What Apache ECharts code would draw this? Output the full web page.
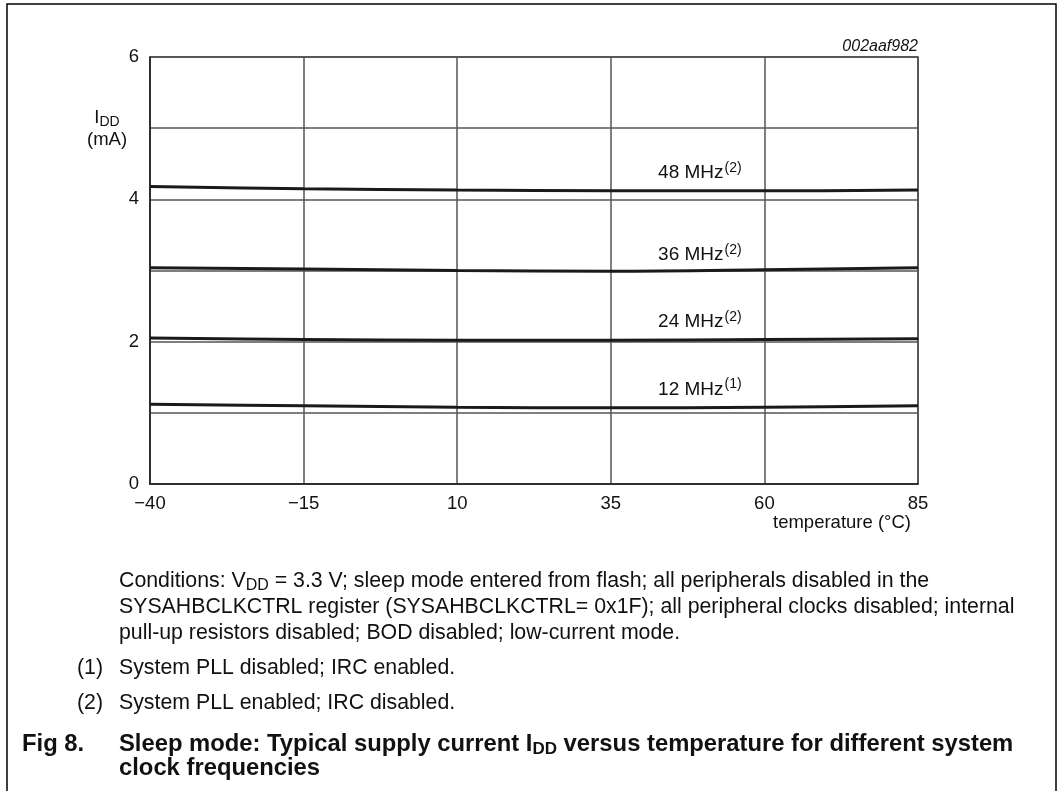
<!DOCTYPE html>
<html><head><meta charset="utf-8">
<script src="https://cdn.jsdelivr.net/npm/echarts@6/dist/echarts.min.js"></script>
<style>html,body{margin:0;padding:0;background:#fff}#c{width:1063px;height:791px}</style>
</head><body><div id="c"></div>
<script>
// ---- data ----
const temps = [-40, -15, 10, 35, 60, 85];
const idd48 = [4.18, 4.15, 4.13, 4.12, 4.12, 4.13];
const idd36 = [3.04, 3.02, 3.00, 2.99, 3.01, 3.04];
const idd24 = [2.05, 2.03, 2.02, 2.02, 2.03, 2.04];
const idd12 = [1.12, 1.10, 1.08, 1.07, 1.08, 1.10];
const seriesNames = ['48 MHz', '36 MHz', '24 MHz', '12 MHz'];
const seriesNotes = ['(2)', '(2)', '(2)', '(1)'];
const xTicks = [-40, -15, 10, 35, 60, 85];
const yTicks = [0, 2, 4, 6];
// label anchors (annotation positions)
const labelPos = [[49.5, 4.37], [49.5, 3.22], [49.5, 2.28], [49.5, 1.33]];

const FONT = '"Liberation Sans", Arial, Helvetica, sans-serif';
const chart = echarts.init(document.getElementById('c'), null, {renderer: 'canvas'});
const allY = [idd48, idd36, idd24, idd12];

const series = allY.map((ys, i) => ({
  type: 'line',
  name: seriesNames[i],
  data: temps.map((t, k) => [t, ys[k]]),
  smooth: 0.35,
  showSymbol: false,
  lineStyle: {color: '#1a1a1a', width: 3},
  silent: true,
  markPoint: {
    symbolSize: 0,
    silent: true,
    data: [{coord: labelPos[i]}],
    label: {
      show: true, position: 'inside',
      formatter: seriesNames[i] + '{s|' + seriesNotes[i] + '}',
      color: '#111', fontFamily: FONT, fontSize: 19,
      rich: {s: {fontSize: 14, fontFamily: FONT, color: '#111', verticalAlign: 'top', padding: [0, 0, 10, 1]}}
    }
  }
}));

const txt = (x, y, text, opts) => Object.assign({
  type: 'text', x: x, y: y,
  style: Object.assign({text: text, fill: '#111', font: '21.3px ' + FONT, textVerticalAlign: 'middle'}, opts || {})
});

chart.setOption({
  animation: false,
  backgroundColor: '#fff',
  grid: {left: 150, right: 145, top: 57, bottom: 307, show: true, borderColor: '#333', borderWidth: 1.5},
  xAxis: {
    type: 'value', min: xTicks[0], max: xTicks[xTicks.length - 1], interval: 25,
    axisLine: {show: true, onZero: false, lineStyle: {color: '#222', width: 1.5}},
    axisTick: {show: false},
    splitLine: {show: true, lineStyle: {color: '#555', width: 1.5}},
    axisLabel: {
      color: '#111', fontFamily: FONT, fontSize: 18.5, margin: 10,
      formatter: v => xTicks.includes(v) ? String(v).replace('-', '\u2212') : ''
    }
  },
  yAxis: {
    type: 'value', min: 0, max: 6, interval: 1,
    axisLine: {show: true, onZero: false, lineStyle: {color: '#222', width: 1.5}},
    axisTick: {show: false},
    splitLine: {show: true, lineStyle: {color: '#555', width: 1.5}},
    axisLabel: {
      color: '#111', fontFamily: FONT, fontSize: 18.5, margin: 11,
      formatter: v => yTicks.includes(v) ? String(v) : ''
    }
  },
  series: series,
  graphic: [
    // frame
    {type: 'polyline', shape: {points: [[7, 800], [7, 4], [1056, 4], [1056, 800]]}, style: {stroke: '#000', lineWidth: 1.5, fill: null}},
    // chart code
    txt(918, 47, '002aaf982', {font: 'italic 16px ' + FONT, textAlign: 'right'}),
    // y title
    {type: 'text', x: 107, y: 118, style: {
      text: 'I{s|DD}', textAlign: 'center', textVerticalAlign: 'middle', fill: '#111', font: '18.5px ' + FONT,
      rich: {s: {fontSize: 14, fontFamily: FONT, fill: '#111', verticalAlign: 'bottom', padding: [9, 0, 0, 0]}}
    }},
    txt(107, 140, '(mA)', {font: '18.5px ' + FONT, textAlign: 'center'}),
    // x title
    txt(842, 523, 'temperature (\u00B0C)', {font: '18.5px ' + FONT, textAlign: 'center'}),
    // caption
    {type: 'text', x: 119, y: 581, style: {
      text: 'Conditions: V{s|DD} = 3.3 V; sleep mode entered from flash; all peripherals disabled in the',
      fill: '#111', font: '21.3px ' + FONT, textVerticalAlign: 'middle',
      rich: {s: {fontSize: 16, fontFamily: FONT, fill: '#111', verticalAlign: 'bottom', padding: [10, 0, 0, 0]}}
    }},
    txt(119, 607, 'SYSAHBCLKCTRL register (SYSAHBCLKCTRL= 0x1F); all peripheral clocks disabled; internal'),
    txt(119, 633, 'pull-up resistors disabled; BOD disabled; low-current mode.'),
    txt(77, 668, '(1)'),
    txt(119, 668, 'System PLL disabled; IRC enabled.'),
    txt(77, 703, '(2)'),
    txt(119, 703, 'System PLL enabled; IRC disabled.'),
    txt(22, 744, 'Fig 8.', {font: 'bold 23.8px ' + FONT}),
    {type: 'text', x: 119, y: 744, style: {
      text: 'Sleep mode: Typical supply current I{s|DD} versus temperature for different system',
      fill: '#111', font: 'bold 23.8px ' + FONT, textVerticalAlign: 'middle',
      rich: {s: {fontSize: 17, fontWeight: 'bold', fontFamily: FONT, fill: '#111', verticalAlign: 'bottom', padding: [11, 0, 0, 0]}}
    }},
    txt(119, 768, 'clock frequencies', {font: 'bold 23.8px ' + FONT})
  ]
});
</script></body></html>
